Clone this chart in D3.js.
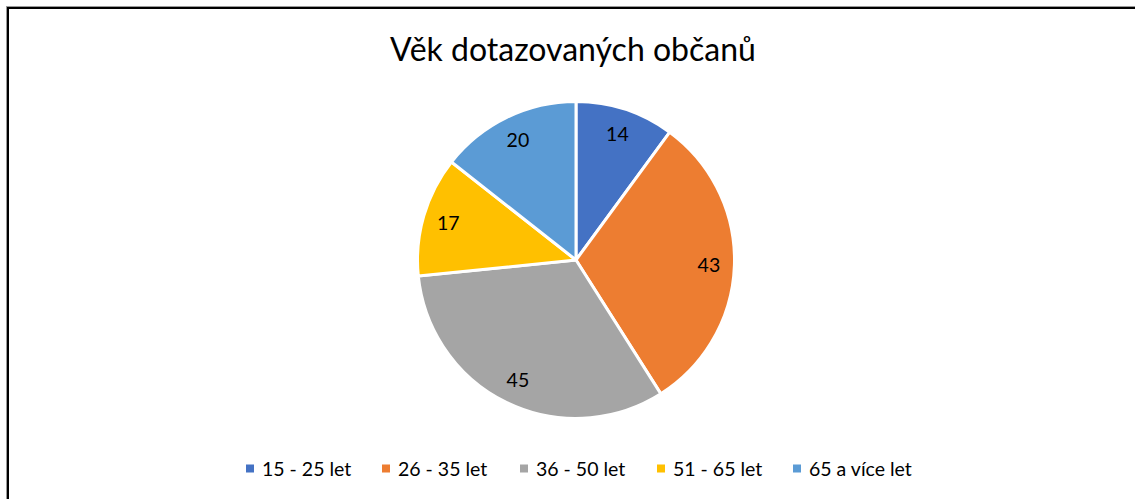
<!DOCTYPE html>
<html><head><meta charset="utf-8">
<script src="https://cdn.jsdelivr.net/npm/d3@7"></script>
<style>html,body{margin:0;padding:0;background:#fff;overflow:hidden}</style>
</head><body>
<script>
const title = "Věk dotazovaných občanů";
const categories = ["15 - 25 let", "26 - 35 let", "36 - 50 let", "51 - 65 let", "65 a více let"];
const values = [14, 43, 45, 17, 20];
const colors = ["#4472C4", "#ED7D31", "#A5A5A5", "#FFC000", "#5B9BD5"];

const W = 1135, H = 499;
const font = "Lato, 'Open Sans', sans-serif";
const svg = d3.select("body").append("svg").attr("width", W).attr("height", H);
svg.append("rect").attr("width", W).attr("height", H).attr("fill", "#fff");

// frame (top and left edges visible)
svg.append("line").attr("x1", 6).attr("x2", W).attr("y1", 6.5).attr("y2", 6.5).attr("stroke", "#9a9a9a").attr("stroke-width", 1);
svg.append("line").attr("x1", 6.5).attr("x2", 6.5).attr("y1", 6).attr("y2", H).attr("stroke", "#9a9a9a").attr("stroke-width", 1);
svg.append("line").attr("x1", 7).attr("x2", W).attr("y1", 8).attr("y2", 8).attr("stroke", "#000").attr("stroke-width", 2);
svg.append("line").attr("x1", 8).attr("x2", 8).attr("y1", 7).attr("y2", H).attr("stroke", "#000").attr("stroke-width", 2);

svg.append("text").attr("x", 573).attr("y", 61).attr("text-anchor", "middle")
  .attr("font-family", font).attr("font-size", 32).attr("fill", "#000").text(title);

const cx = 576, cy = 260, r = 158.5;
const pie = d3.pie().sort(null).value(d => d);
const arcs = pie(values);
const arc = d3.arc().innerRadius(0).outerRadius(r);
const labelArc = d3.arc().innerRadius(133).outerRadius(133);
const g = svg.append("g").attr("transform", `translate(${cx},${cy})`);
g.selectAll("path").data(arcs).join("path")
  .attr("d", arc).attr("fill", (d, i) => colors[i])
  .attr("stroke", "#fff").attr("stroke-width", 3).attr("stroke-linejoin", "round");
g.selectAll("text").data(arcs).join("text")
  .attr("transform", d => `translate(${labelArc.centroid(d)})`)
  .attr("text-anchor", "middle").attr("dy", "0.36em")
  .attr("font-family", font).attr("font-size", 19.5).attr("fill", "#000")
  .text(d => d.data);

// legend
const legendX = [246, 382, 520, 657, 793];
const lg = svg.append("g");
categories.forEach((c, i) => {
  lg.append("rect").attr("x", legendX[i]).attr("y", 464.5).attr("width", 8).attr("height", 8).attr("fill", colors[i]);
  lg.append("text").attr("x", legendX[i] + 16).attr("y", 475.5)
    .attr("font-family", font).attr("font-size", 19.5).attr("fill", "#000").text(c);
});
</script>
</body></html>
